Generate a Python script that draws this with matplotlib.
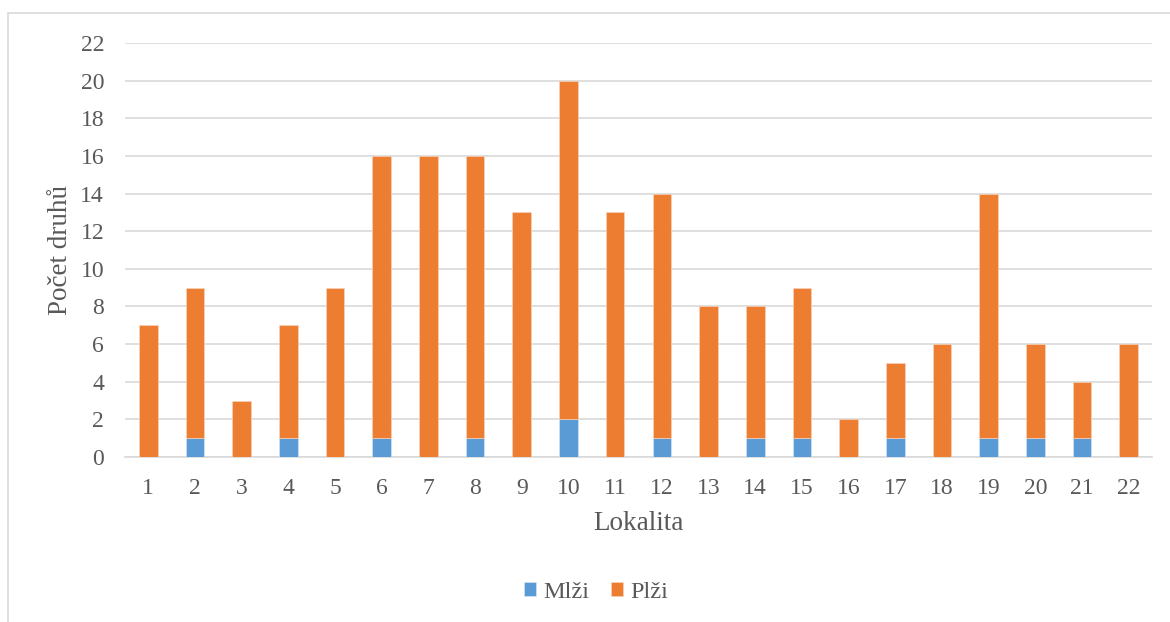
import matplotlib
matplotlib.use("Agg")
import matplotlib.pyplot as plt
from matplotlib.patches import Rectangle

lokality = [str(i) for i in range(1, 23)]
mlzi = [0, 1, 0, 1, 0, 1, 0, 1, 0, 2, 0, 1, 0, 1, 1, 0, 1, 0, 1, 1, 1, 0]
celkem = [7, 9, 3, 7, 9, 16, 16, 16, 13, 20, 13, 14, 8, 8, 9, 2, 5, 6, 14, 6, 4, 6]
plzi = [c - m for c, m in zip(celkem, mlzi)]
yticks = list(range(0, 23, 2))

plt.rcParams['font.family'] = ['Liberation Serif', 'DejaVu Serif']
text_col = '#595959'
grid_col = '#D9D9D9'

W, H = 1170, 622
fig = plt.figure(figsize=(W / 100, H / 100), dpi=100)

# chart frame
fig.patches.append(Rectangle((8 / W, 0 - 0.01), 1.1, (H - 13) / H + 0.01,
                             transform=fig.transFigure, fill=False,
                             edgecolor=grid_col, linewidth=1.2))

ax = fig.add_axes([125 / W, 1 - 457 / H, (1152 - 125) / W, (457 - 43) / H])
x = list(range(len(lokality)))
ax.bar(x, mlzi, width=0.4, color='#5B9BD5', edgecolor='#DDE8F3', linewidth=0.4,
       label='Mlži', zorder=3)
ax.bar(x, plzi, width=0.4, bottom=mlzi, color='#ED7D31', edgecolor='#F8D9C4',
       linewidth=0.4, label='Plži', zorder=3)

ax.set_xlim(-0.5, len(lokality) - 0.5)
ax.set_ylim(0, 22)
ax.set_yticks(yticks)
ax.set_xticks(x)
ax.set_xticklabels(lokality)
ax.yaxis.grid(True, color=grid_col, linewidth=1.2, zorder=0)
ax.set_axisbelow(True)
for s in ['top', 'right', 'left']:
    ax.spines[s].set_visible(False)
ax.spines['bottom'].set_color(grid_col)
ax.spines['bottom'].set_linewidth(1.2)
ax.tick_params(axis='both', length=0, labelsize=17, colors=text_col)
ax.tick_params(axis='x', pad=15)
ax.tick_params(axis='y', pad=15)

ax.set_xlabel('Lokalita', fontsize=19.5, color=text_col, labelpad=8.5)
ax.set_ylabel('Počet druhů', fontsize=19.5, color=text_col, labelpad=5.5)

handles, labels = ax.get_legend_handles_labels()
fig.legend(handles, labels, loc='center', bbox_to_anchor=(596 / W, 1 - 592 / H),
           ncol=2, frameon=False, fontsize=17.5, labelcolor=text_col,
           handlelength=0.5, handleheight=0.5, handletextpad=0.3,
           columnspacing=0.9)

fig.savefig('out.png', dpi=100)
